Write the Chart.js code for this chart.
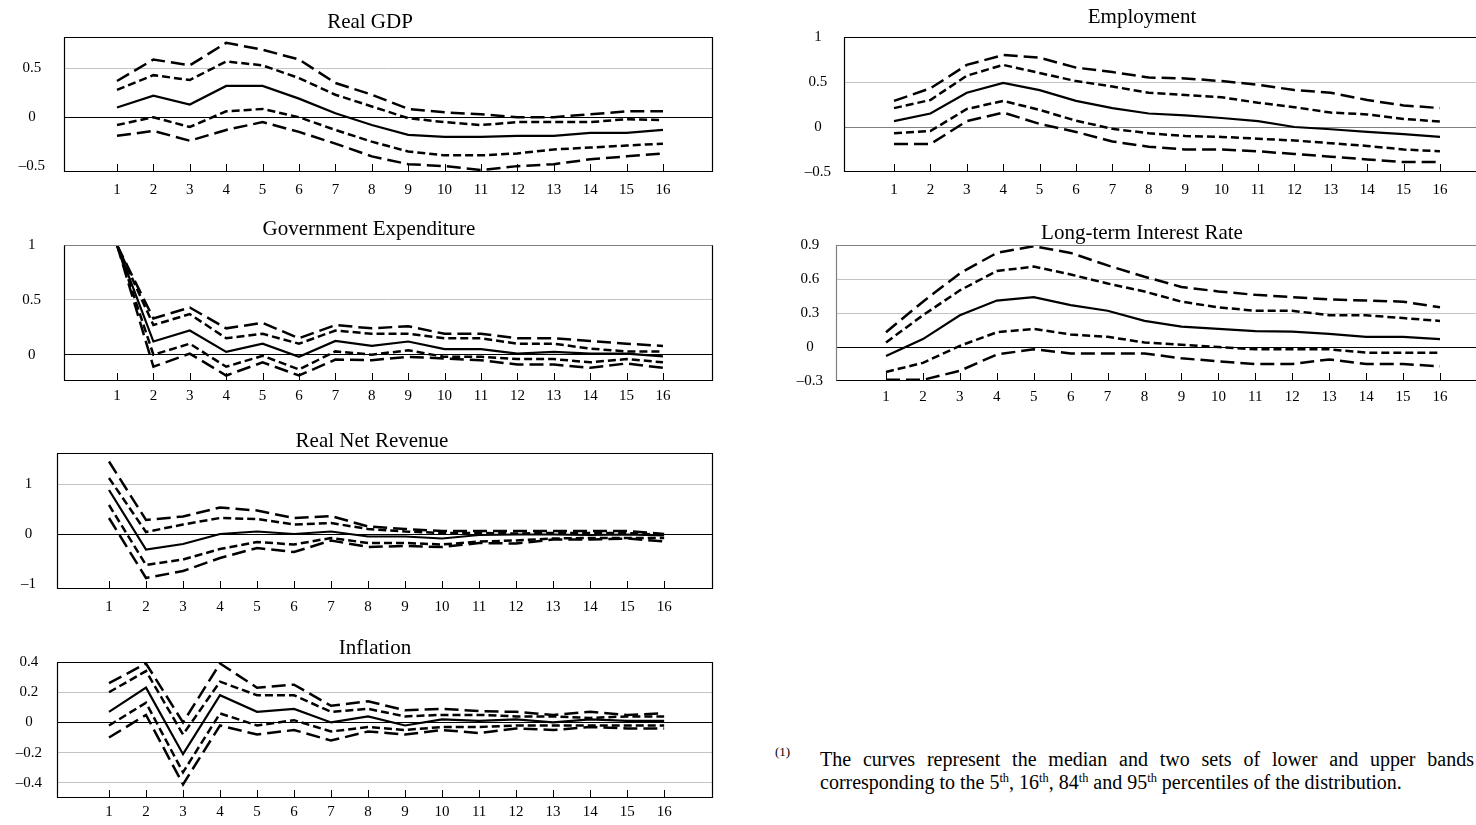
<!DOCTYPE html>
<html>
<head>
<meta charset="utf-8">
<title>Impulse responses to a government expenditure shock</title>
<script src="https://cdn.jsdelivr.net/npm/chart.js@4.4.1/dist/chart.umd.min.js"></script>
<style>
  html, body { margin: 0; padding: 0; background: #fff; width: 1476px; height: 825px; overflow: hidden; position: relative; }
  .panel { position: absolute; }
  .panel canvas { display: block; }
  .ptitle { position: absolute; font: 21px 'Liberation Serif', 'Times New Roman', serif; line-height: 24px; color: #000; white-space: nowrap; transform: translateX(-50%); }
  .fn-mark { position: absolute; left: 775px; top: 744px; font: 13px 'Liberation Serif', 'Times New Roman', serif; color: #000; }
  .fn { position: absolute; left: 820px; top: 748px; width: 654px; font: 20px 'Liberation Serif', 'Times New Roman', serif; line-height: 23px; color: #000; text-align: justify; }
  .fn sup { font-size: 0.62em; line-height: 0; vertical-align: 0.55em; }
</style>
</head>
<body>
<div class="fn-mark">(1)</div>
<div class="fn">The curves represent the median and two sets of lower and upper bands corresponding to the 5<sup>th</sup>, 16<sup>th</sup>, 84<sup>th</sup> and 95<sup>th</sup> percentiles of the distribution.</div>

<script>
// Quarters after the shock
const horizons = [1, 2, 3, 4, 5, 6, 7, 8, 9, 10, 11, 12, 13, 14, 15, 16];

// Real GDP
const gdpP95    = [0.37, 0.59, 0.53, 0.76, 0.69, 0.59, 0.35, 0.23, 0.085, 0.05, 0.03, 0.0, 0.0, 0.03, 0.06, 0.06];
const gdpP84    = [0.28, 0.43, 0.38, 0.57, 0.53, 0.40, 0.23, 0.11, -0.01, -0.05, -0.08, -0.05, -0.05, -0.05, -0.02, -0.03];
const gdpMedian = [0.10, 0.22, 0.13, 0.32, 0.32, 0.19, 0.04, -0.08, -0.18, -0.20, -0.20, -0.19, -0.19, -0.16, -0.16, -0.13];
const gdpP16    = [-0.08, 0.0, -0.10, 0.06, 0.085, 0.0, -0.13, -0.25, -0.35, -0.39, -0.39, -0.37, -0.33, -0.31, -0.29, -0.27];
const gdpP05    = [-0.19, -0.14, -0.24, -0.13, -0.05, -0.15, -0.27, -0.40, -0.48, -0.50, -0.54, -0.50, -0.48, -0.43, -0.40, -0.37];
const gdpTicks  = [-0.5, 0, 0.5];

// Government expenditure
const geP95    = [1.0, 0.33, 0.43, 0.24, 0.29, 0.15, 0.27, 0.24, 0.26, 0.19, 0.19, 0.15, 0.15, 0.125, 0.10, 0.08];
const geP84    = [1.0, 0.27, 0.37, 0.15, 0.19, 0.10, 0.22, 0.19, 0.19, 0.15, 0.15, 0.10, 0.10, 0.055, 0.03, 0.03];
const geMedian = [1.0, 0.12, 0.22, 0.025, 0.10, -0.02, 0.125, 0.08, 0.12, 0.05, 0.05, 0.01, 0.025, 0.01, 0.01, -0.015];
const geP16    = [1.0, 0.0, 0.10, -0.11, -0.01, -0.135, 0.03, 0.0, 0.04, -0.02, -0.02, -0.04, -0.04, -0.07, -0.04, -0.07];
const geP05    = [1.0, -0.11, 0.01, -0.19, -0.07, -0.19, -0.045, -0.05, -0.02, -0.035, -0.05, -0.09, -0.09, -0.12, -0.08, -0.12];
const geTicks  = [0, 0.5, 1];

// Real net revenue
const rnrP95    = [1.45, 0.28, 0.35, 0.53, 0.47, 0.32, 0.36, 0.15, 0.10, 0.06, 0.06, 0.06, 0.06, 0.06, 0.06, 0.0];
const rnrP84    = [1.12, 0.04, 0.19, 0.32, 0.30, 0.19, 0.22, 0.10, 0.05, 0.02, 0.02, 0.01, 0.02, 0.02, 0.02, -0.02];
const rnrMedian = [0.88, -0.31, -0.20, 0.0, 0.05, 0.0, 0.05, -0.05, -0.05, -0.09, -0.02, -0.01, -0.01, -0.02, -0.01, -0.03];
const rnrP16    = [0.58, -0.62, -0.51, -0.30, -0.16, -0.21, -0.08, -0.18, -0.18, -0.21, -0.15, -0.13, -0.09, -0.08, -0.08, -0.08];
const rnrP05    = [0.32, -0.88, -0.74, -0.48, -0.28, -0.36, -0.13, -0.26, -0.24, -0.26, -0.18, -0.19, -0.11, -0.11, -0.09, -0.15];
const rnrTicks  = [-1, 0, 1];

// Inflation
const infP95    = [0.26, 0.39, 0.0, 0.39, 0.23, 0.25, 0.11, 0.14, 0.08, 0.09, 0.075, 0.07, 0.05, 0.07, 0.05, 0.06];
const infP84    = [0.20, 0.34, -0.08, 0.27, 0.18, 0.18, 0.07, 0.09, 0.04, 0.05, 0.05, 0.04, 0.04, 0.03, 0.04, 0.04];
const infMedian = [0.07, 0.23, -0.21, 0.18, 0.07, 0.09, 0.0, 0.04, -0.02, 0.02, 0.01, 0.02, 0.0, 0.02, 0.01, 0.01];
const infP16    = [-0.02, 0.13, -0.33, 0.06, -0.02, 0.015, -0.06, -0.03, -0.05, -0.03, -0.03, -0.02, -0.02, -0.02, -0.02, -0.02];
const infP05    = [-0.10, 0.05, -0.41, -0.02, -0.08, -0.05, -0.12, -0.06, -0.08, -0.05, -0.07, -0.04, -0.05, -0.03, -0.04, -0.04];
const infTicks  = [-0.4, -0.2, 0, 0.2, 0.4];

// Employment
const empP95    = [0.29, 0.43, 0.69, 0.80, 0.77, 0.66, 0.61, 0.55, 0.54, 0.51, 0.47, 0.41, 0.38, 0.30, 0.24, 0.21];
const empP84    = [0.21, 0.30, 0.57, 0.69, 0.60, 0.51, 0.45, 0.38, 0.355, 0.33, 0.27, 0.22, 0.16, 0.14, 0.09, 0.06];
const empMedian = [0.065, 0.15, 0.38, 0.49, 0.41, 0.29, 0.21, 0.15, 0.13, 0.10, 0.065, 0.0, -0.025, -0.055, -0.08, -0.11];
const empP16    = [-0.07, -0.045, 0.20, 0.29, 0.19, 0.07, -0.02, -0.07, -0.10, -0.11, -0.13, -0.15, -0.18, -0.21, -0.25, -0.27];
const empP05    = [-0.19, -0.19, 0.065, 0.16, 0.035, -0.055, -0.16, -0.22, -0.25, -0.25, -0.27, -0.30, -0.33, -0.36, -0.39, -0.39];
const empTicks  = [-0.5, 0, 0.5, 1];

// Long-term interest rate
const ltP95    = [0.13, 0.40, 0.65, 0.83, 0.89, 0.83, 0.72, 0.62, 0.53, 0.49, 0.46, 0.44, 0.42, 0.41, 0.40, 0.35];
const ltP84    = [0.04, 0.28, 0.50, 0.67, 0.71, 0.64, 0.56, 0.49, 0.40, 0.35, 0.32, 0.32, 0.28, 0.28, 0.255, 0.23];
const ltMedian = [-0.08, 0.07, 0.28, 0.41, 0.44, 0.37, 0.32, 0.23, 0.18, 0.16, 0.14, 0.135, 0.115, 0.09, 0.09, 0.07];
const ltP16    = [-0.22, -0.14, 0.01, 0.13, 0.16, 0.11, 0.09, 0.04, 0.02, 0.0, -0.02, -0.02, -0.02, -0.05, -0.05, -0.05];
const ltP05    = [-0.29, -0.29, -0.21, -0.066, -0.02, -0.057, -0.057, -0.057, -0.10, -0.126, -0.15, -0.15, -0.11, -0.15, -0.15, -0.17];
const ltTicks  = [-0.3, 0, 0.3, 0.6, 0.9];

// Panel layout: plot box in page pixels, axis ranges and a few style switches
const BLACK = '#000000', GREY = '#808080';
const panels = [
  { title: 'Real GDP', bands: [gdpP95, gdpP84, gdpMedian, gdpP16, gdpP05], yTicks: gdpTicks,
    yMin: -0.56, yMax: 0.82, xMin: -0.456, xMax: 17.374, box: [64, 37, 713, 172],
    labelPad: 19, xLabelPad: 9, titleX: 370, titleTop: 9, zero: BLACK, frame: [BLACK, BLACK, BLACK, BLACK] },
  { title: 'Government Expenditure', bands: [geP95, geP84, geMedian, geP16, geP05], yTicks: geTicks,
    yMin: -0.24, yMax: 1.0, xMin: -0.456, xMax: 17.374, box: [64, 245, 713, 381],
    labelPad: 23, xLabelPad: 6, titleX: 369, titleTop: 216, zero: BLACK, frame: [GREY, BLACK, BLACK, BLACK] },
  { title: 'Real Net Revenue', bands: [rnrP95, rnrP84, rnrMedian, rnrP16, rnrP05], yTicks: rnrTicks,
    yMin: -1.1, yMax: 1.62, xMin: -0.405, xMax: 17.32, box: [57, 453, 713, 589],
    labelPad: 21, xLabelPad: 9, titleX: 372, titleTop: 428, zero: BLACK, frame: [BLACK, BLACK, BLACK, BLACK] },
  { title: 'Inflation', bands: [infP95, infP84, infMedian, infP16, infP05], yTicks: infTicks,
    yMin: -0.5, yMax: 0.4, xMin: -0.405, xMax: 17.32, box: [57, 662, 713, 798],
    labelPad: 15, xLabelPad: 5, titleX: 375, titleTop: 635, zero: BLACK, frame: [BLACK, BLACK, BLACK, BLACK] },
  { title: 'Employment', bands: [empP95, empP84, empMedian, empP16, empP05], yTicks: empTicks,
    yMin: -0.5, yMax: 1.0, xMin: -0.374, xMax: 17.374, box: [844, 37, 1490, 172],
    labelPad: 13, xLabelPad: 9, titleX: 1142, titleTop: 4, zero: GREY, frame: [BLACK, BLACK, BLACK, BLACK] },
  { title: 'Long-term Interest Rate', bands: [ltP95, ltP84, ltMedian, ltP16, ltP05], yTicks: ltTicks,
    yMin: -0.3, yMax: 0.9, xMin: -0.354, xMax: 17.354, box: [836, 245, 1490, 381],
    labelPad: 13, xLabelPad: 7, titleX: 1142, titleTop: 220, zero: BLACK, frame: [GREY, BLACK, BLACK, GREY] }
];

// Line styles for 95th, 84th, median, 16th and 5th percentile curves
const LONG = [14, 6], SHORT = [8, 4];
const bandStyles = [
  { label: '95th percentile', dash: LONG,  width: 2.5 },
  { label: '84th percentile', dash: SHORT, width: 2.5 },
  { label: 'Median',          dash: [],    width: 2.2 },
  { label: '16th percentile', dash: SHORT, width: 2.5 },
  { label: '5th percentile',  dash: LONG,  width: 2.5 }
];

// Canvas margins around each plot box (room for axis labels)
const AXIS_W = 60, PAD_TOP = 40, PAD_RIGHT = 6, XAXIS_H = 34;

Chart.defaults.font.family = "'Liberation Serif', 'Times New Roman', serif";
Chart.defaults.font.size = 15;
Chart.defaults.color = '#000';

function fmtTick(v) {
  const r = Math.round(v * 100) / 100;
  if (r === 0) return '0';
  return (r < 0 ? '\u2013' : '') + String(Math.abs(r));
}

// Short tick marks rising from the bottom edge, and the plot frame
const plotFrame = {
  id: 'plotFrame',
  beforeDatasetsDraw(chart) {
    const { ctx, chartArea: a } = chart;
    const x = chart.scales.x;
    ctx.save();
    ctx.strokeStyle = '#000';
    ctx.lineWidth = 1;
    ctx.beginPath();
    x.ticks.forEach(t => {
      const px = Math.round(x.getPixelForValue(t.value)) + 0.5;
      ctx.moveTo(px, a.bottom);
      ctx.lineTo(px, a.bottom - 8);
    });
    ctx.stroke();
    ctx.restore();
  },
  afterDatasetsDraw(chart, args, opts) {
    const { ctx, chartArea: a } = chart;
    const L = Math.round(a.left) + 0.5, R = Math.round(a.right) - 0.5;
    const T = Math.round(a.top) + 0.5, B = Math.round(a.bottom) - 0.5;
    const c = opts.colors || [BLACK, BLACK, BLACK, BLACK]; // top, right, bottom, left
    const seg = (col, x1, y1, x2, y2) => {
      ctx.strokeStyle = col; ctx.lineWidth = 1.2;
      ctx.beginPath(); ctx.moveTo(x1, y1); ctx.lineTo(x2, y2); ctx.stroke();
    };
    ctx.save();
    seg(c[0], L - 0.5, T, R + 0.5, T);
    seg(c[1], R, T, R, B);
    seg(c[2], L - 0.5, B, R + 0.5, B);
    seg(c[3], L, T, L, B);
    ctx.restore();
  }
};

panels.forEach(p => {
  const [l, t, r, b] = p.box;
  const W = AXIS_W + (r - l) + PAD_RIGHT;
  const H = PAD_TOP + (b - t) + XAXIS_H;

  const holder = document.createElement('div');
  holder.className = 'panel';
  holder.style.left = (l - AXIS_W) + 'px';
  holder.style.top = (t - PAD_TOP) + 'px';
  const canvas = document.createElement('canvas');
  canvas.width = W; canvas.height = H;
  canvas.style.width = W + 'px'; canvas.style.height = H + 'px';
  holder.appendChild(canvas);
  document.body.appendChild(holder);

  const title = document.createElement('div');
  title.className = 'ptitle';
  title.textContent = p.title;
  title.style.left = p.titleX + 'px';
  title.style.top = p.titleTop + 'px';
  document.body.appendChild(title);

  const datasets = p.bands.map((vals, i) => ({
    label: bandStyles[i].label,
    data: horizons.map((h, k) => ({ x: h, y: vals[k] })),
    borderColor: '#000',
    borderWidth: bandStyles[i].width,
    borderDash: bandStyles[i].dash,
    borderCapStyle: 'butt',
    borderJoinStyle: 'miter',
    pointRadius: 0,
    tension: 0,
    fill: false
  }));

  new Chart(canvas, {
    type: 'line',
    data: { datasets },
    plugins: [plotFrame],
    options: {
      responsive: false,
      animation: false,
      devicePixelRatio: 1,
      layout: { padding: { top: PAD_TOP, right: PAD_RIGHT, left: 0, bottom: 0 } },
      plugins: {
        legend: { display: false },
        tooltip: { enabled: false },
        plotFrame: { colors: p.frame }
      },
      scales: {
        x: {
          type: 'linear',
          min: p.xMin, max: p.xMax,
          afterBuildTicks: s => { s.ticks = horizons.map(v => ({ value: v })); },
          afterFit: s => { s.height = XAXIS_H; },
          grid: { display: false, drawTicks: false },
          border: { display: false },
          ticks: { padding: p.xLabelPad, autoSkip: false, maxRotation: 0, callback: v => String(v) }
        },
        y: {
          type: 'linear',
          min: p.yMin, max: p.yMax,
          afterBuildTicks: s => { s.ticks = p.yTicks.map(v => ({ value: v })); },
          afterFit: s => { s.width = AXIS_W; },
          border: { display: false },
          grid: {
            drawTicks: false,
            lineWidth: 1,
            color: ctx => {
              const v = ctx.tick ? ctx.tick.value : null;
              if (v === null) return 'transparent';
              if (Math.abs(v) < 1e-9) return p.zero;
              const sc = ctx.scale, px = sc.getPixelForValue(v);
              if (px - sc.top < 8 || sc.bottom - px < 8) return 'transparent';
              return '#c4c4c4';
            }
          },
          ticks: { padding: p.labelPad, crossAlign: 'center', callback: v => fmtTick(v) }
        }
      }
    }
  });
});
</script>
</body>
</html>
